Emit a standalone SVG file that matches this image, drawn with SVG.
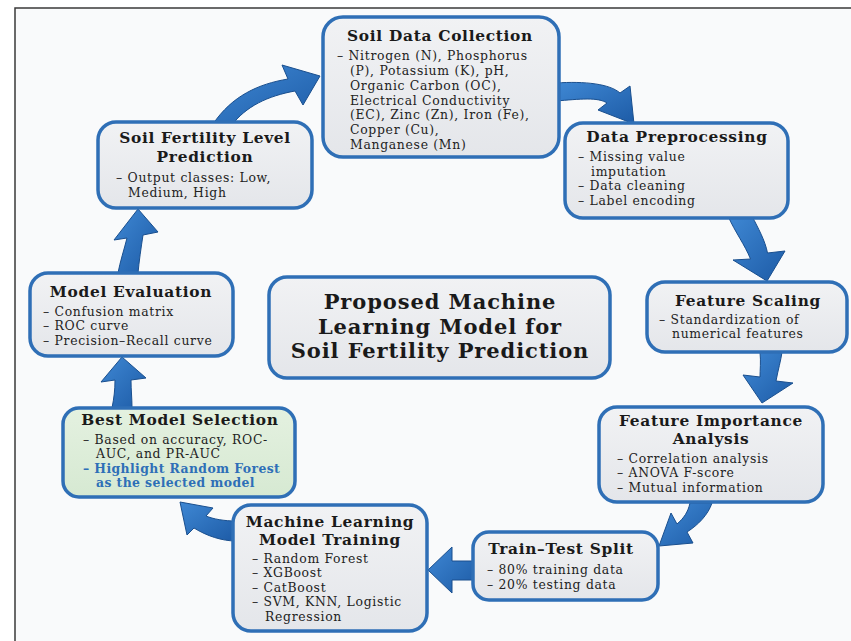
<svg xmlns="http://www.w3.org/2000/svg" width="851" height="641" viewBox="0 0 851 641">
<defs>
<linearGradient id="ag" x1="0" y1="0" x2="1" y2="1">
<stop offset="0" stop-color="#3f88d4"/>
<stop offset="1" stop-color="#1d5ba6"/>
</linearGradient>
<linearGradient id="bg" x1="0" y1="0" x2="0" y2="1">
<stop offset="0" stop-color="#f1f2f4"/>
<stop offset="1" stop-color="#e4e6ea"/>
</linearGradient>
<linearGradient id="gg" x1="0" y1="0" x2="0" y2="1">
<stop offset="0" stop-color="#e4f1e0"/>
<stop offset="1" stop-color="#d6e9d2"/>
</linearGradient>
</defs>
<style>
.box{fill:url(#bg);stroke:#2f6fb6;stroke-width:3.5}
.green{fill:url(#gg)}
.t{font-family:"DejaVu Serif","Liberation Serif",serif;font-weight:bold;font-size:15.4px;letter-spacing:0.7px;fill:#1a1a1a;text-anchor:middle}
.b{font-family:"DejaVu Serif","Liberation Serif",serif;font-size:12.4px;letter-spacing:0.7px;fill:#222}
.hl{font-weight:bold;fill:#2e6fb7;letter-spacing:0.4px}
.ct{font-family:"DejaVu Serif","Liberation Serif",serif;font-weight:bold;font-size:21px;letter-spacing:0.9px;fill:#1a1a1a;text-anchor:middle}
.arr{fill:url(#ag);stroke:#1a4f8e;stroke-width:1;stroke-linejoin:round}
</style>
<rect x="0" y="0" width="851" height="641" fill="#ffffff"/>
<rect x="15" y="8" width="845" height="645" fill="#f9fafb" stroke="#3a3a3a" stroke-width="1.5"/>

<g id="connectors">
<path class="arr" d="M 213 124 C 232 96, 258 84, 288 79 L 282 65 L 320 76 L 303 105 L 295 91 C 268 96, 246 106, 231 126 Z"/>
<path class="arr" d="M 556 83 C 585 81, 610 84, 620 93 L 630 86 L 634 124 L 598 110 L 607 103 C 598 97, 580 99, 556 101 Z"/>
<path class="arr" d="M 728 216 C 735 232, 745 245, 750.5 259 L 733 260 L 767 281 L 785 251 L 767.5 253 C 765 240, 758 228, 752 216 Z"/>
<path class="arr" d="M 760 352 C 761 362, 760 370, 760 377 L 743 375 L 762 403 L 793 383 L 776 381 C 778 370, 781 360, 782 352 Z"/>
<path class="arr" d="M 690 503 C 688 512, 684 518, 677 524 L 671 513 L 659 546 L 693 543 L 687 532 C 698 525, 708 515, 712 503 Z"/>
<path class="arr" d="M 475 561 L 452 561 L 452 547 L 428 570 L 452 593 L 452 580 L 475 580 Z"/>
<path class="arr" d="M 236 521 C 224 521, 213 519, 206 516 L 213 508 L 180 502 L 187 535 L 194 528 C 207 536, 222 541, 236 541 Z"/>
<path class="arr" d="M 112 408 C 114 398, 115 390, 115 380 L 101 382 L 122 357 L 146 378 L 131 380 C 131 390, 132 398, 132 408 Z"/>
<path class="arr" d="M 118 273 C 120 262, 124 250, 127 238 L 114 240 L 138 209 L 158 232 L 143 235 C 141 248, 139 262, 138 273 Z"/>
</g>

<g id="soil-data-collection">
<rect class="box" x="323" y="17" width="236" height="140" rx="20"/>
<text class="t" x="440" y="41">Soil Data Collection</text>
<text class="b" x="337" y="60">– Nitrogen (N), Phosphorus</text>
<text class="b" x="350" y="75">(P), Potassium (K), pH,</text>
<text class="b" x="350" y="90">Organic Carbon (OC),</text>
<text class="b" x="350" y="104.5">Electrical Conductivity</text>
<text class="b" x="350" y="119">(EC), Zinc (Zn), Iron (Fe),</text>
<text class="b" x="350" y="134">Copper (Cu),</text>
<text class="b" x="350" y="148.5">Manganese (Mn)</text>
</g>

<g id="data-preprocessing">
<rect class="box" x="565" y="123" width="223" height="95" rx="18"/>
<text class="t" x="677" y="142">Data Preprocessing</text>
<text class="b" x="578" y="161">– Missing value</text>
<text class="b" x="591" y="175.5">imputation</text>
<text class="b" x="578" y="190">– Data cleaning</text>
<text class="b" x="578" y="204.5">– Label encoding</text>
</g>

<g id="soil-fertility-level-prediction">
<rect class="box" x="98" y="122" width="214" height="86" rx="18"/>
<text class="t" x="205" y="143">Soil Fertility Level</text>
<text class="t" x="205" y="162">Prediction</text>
<text class="b" x="116" y="182">– Output classes: Low,</text>
<text class="b" x="128" y="197">Medium, High</text>
</g>

<g id="model-evaluation">
<rect class="box" x="30" y="273" width="203" height="83" rx="18"/>
<text class="t" x="131" y="297">Model Evaluation</text>
<text class="b" x="43" y="315.5">– Confusion matrix</text>
<text class="b" x="43" y="330">– ROC curve</text>
<text class="b" x="43" y="344.5">– Precision–Recall curve</text>
</g>

<g id="feature-scaling">
<rect class="box" x="647" y="282" width="200" height="70" rx="18"/>
<text class="t" x="748" y="306">Feature Scaling</text>
<text class="b" x="659" y="323.5">– Standardization of</text>
<text class="b" x="672" y="338">numerical features</text>
</g>

<g id="title">
<rect class="box" x="269" y="277" width="341" height="101" rx="18"/>
<text class="ct" x="440" y="309">Proposed Machine</text>
<text class="ct" x="440" y="333.5">Learning Model for</text>
<text class="ct" x="440" y="358">Soil Fertility Prediction</text>
</g>

<g id="feature-importance-analysis">
<rect class="box" x="599" y="407" width="224" height="95" rx="18"/>
<text class="t" x="711" y="425.5">Feature Importance</text>
<text class="t" x="711" y="444">Analysis</text>
<text class="b" x="617" y="462.5">– Correlation analysis</text>
<text class="b" x="617" y="477">– ANOVA F-score</text>
<text class="b" x="617" y="491.5">– Mutual information</text>
</g>

<g id="best-model-selection">
<rect class="box green" x="63" y="408" width="232" height="89" rx="16"/>
<text class="t" x="180" y="425">Best Model Selection</text>
<text class="b" x="83" y="443.5">– Based on accuracy, ROC-</text>
<text class="b" x="96" y="458">AUC, and PR-AUC</text>
<text class="b hl" x="83" y="472.5">– Highlight Random Forest</text>
<text class="b hl" x="96" y="487">as the selected model</text>
</g>

<g id="machine-learning-model-training">
<rect class="box" x="233" y="505" width="194" height="126" rx="18"/>
<text class="t" x="330" y="526.5">Machine Learning</text>
<text class="t" x="330" y="545">Model Training</text>
<text class="b" x="252" y="562.5">– Random Forest</text>
<text class="b" x="252" y="577">– XGBoost</text>
<text class="b" x="252" y="591.5">– CatBoost</text>
<text class="b" x="252" y="606">– SVM, KNN, Logistic</text>
<text class="b" x="265" y="620.5">Regression</text>
</g>

<g id="train-test-split">
<rect class="box" x="473" y="532" width="185" height="68" rx="16"/>
<text class="t" x="561" y="554">Train–Test Split</text>
<text class="b" x="487" y="574">– 80% training data</text>
<text class="b" x="487" y="588.5">– 20% testing data</text>
</g>
</svg>
